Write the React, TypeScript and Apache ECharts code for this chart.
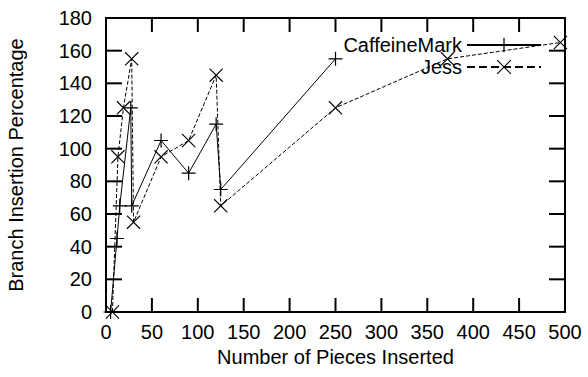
import React, { useEffect, useRef } from "react";
import * as echarts from "echarts";

const cmX = [5, 12, 15, 27, 28, 60, 90, 120, 125, 250];
const cmY = [0, 45, 65, 125, 65, 105, 85, 115, 75, 155];
const jessX = [7, 13, 19, 28, 30, 60, 90, 120, 125, 250, 372, 495];
const jessY = [0, 95, 125, 155, 55, 95, 105, 145, 65, 125, 155, 165];
const xTicks = [0, 50, 100, 150, 200, 250, 300, 350, 400, 450, 500];
const yTicks = [0, 20, 40, 60, 80, 100, 120, 140, 160, 180];
const seriesNames = ["CaffeineMark", "Jess"];
const xTitle = "Number of Pieces Inserted";
const yTitle = "Branch Insertion Percentage";

const PLUS = "path://M6.4,0 h1.2 v14 h-1.2z M0,6.4 h14 v1.2 h-14z";
const CROSS = "path://M0,0.8 L0.8,0 L14,13.2 L13.2,14z M13.2,0 L14,0.8 L0.8,14 L0,13.2z";

const FONT = "Liberation Sans, Arial, sans-serif";

export default function App() {
  const ref = useRef<HTMLDivElement>(null);
  useEffect(() => {
    document.body.style.margin = "0";
    const chart = echarts.init(ref.current!, null, { renderer: "svg" });
    const xMin = xTicks[0];
    const xMax = xTicks[xTicks.length - 1];
    const yMin = yTicks[0];
    const yMax = yTicks[yTicks.length - 1];
    chart.setOption({
      animation: false,
      backgroundColor: "#fff",
      grid: {
        left: 106,
        right: 23,
        top: 18,
        bottom: 65,
        show: true,
        borderColor: "#000",
        borderWidth: 2,
        backgroundColor: "transparent",
        outerBoundsMode: "none",
      },
      legend: {
        data: seriesNames,
        orient: "vertical",
        align: "right",
        right: 41,
        top: 30,
        itemWidth: 74,
        itemHeight: 18,
        itemGap: 2,
        textStyle: { fontSize: 20, fontFamily: FONT, color: "#000" },
      },
      xAxis: {
        type: "value",
        min: xMin,
        max: xMax,
        interval: 50,
        name: xTitle,
        nameLocation: "middle",
        nameGap: 34,
        nameTextStyle: { fontSize: 20, fontFamily: FONT, color: "#000" },
        axisTick: { show: false },
        axisLine: { show: true, lineStyle: { color: "#000", width: 2 } },
        splitLine: { show: false },
        axisLabel: { margin: 10, fontSize: 20, fontFamily: FONT, color: "#000" },
      },
      yAxis: {
        type: "value",
        min: yMin,
        max: yMax,
        interval: 20,
        name: yTitle,
        nameLocation: "middle",
        nameGap: 80,
        nameTextStyle: { fontSize: 20, fontFamily: FONT, color: "#000" },
        axisTick: { show: false },
        axisLine: { show: true, lineStyle: { color: "#000", width: 2 } },
        splitLine: { show: false },
        axisLabel: { margin: 14, fontSize: 20, fontFamily: FONT, color: "#000" },
      },
      series: [
        {
          name: seriesNames[0],
          type: "line",
          data: cmX.map((x, i) => [x, cmY[i]]),
          symbol: PLUS,
          symbolSize: 14,
          lineStyle: { color: "#000", width: 1, type: "solid" },
          itemStyle: { color: "#000" },
        },
        {
          name: seriesNames[1],
          type: "line",
          data: jessX.map((x, i) => [x, jessY[i]]),
          symbol: CROSS,
          symbolSize: 14,
          lineStyle: { color: "#000", width: 1, type: "dashed" },
          itemStyle: { color: "#000" },
        },
        {
          name: "xTicks",
          type: "custom",
          silent: true,
          clip: false,
          data: xTicks.map((v) => [v, yMin]),
          encode: { x: 0, y: 1 },
          renderItem: (_p: any, api: any) => {
            const v = api.value(0);
            const b = api.coord([v, yMin]);
            const t = api.coord([v, yMax]);
            return {
              type: "group",
              children: [
                { type: "line", shape: { x1: b[0], y1: b[1], x2: b[0], y2: b[1] - 14 }, style: { stroke: "#000", lineWidth: 2 } },
                { type: "line", shape: { x1: t[0], y1: t[1], x2: t[0], y2: t[1] + 14 }, style: { stroke: "#000", lineWidth: 2 } },
              ],
            };
          },
        },
        {
          name: "yTicks",
          type: "custom",
          silent: true,
          clip: false,
          data: yTicks.map((v) => [xMin, v]),
          encode: { x: 0, y: 1 },
          renderItem: (_p: any, api: any) => {
            const v = api.value(1);
            const l = api.coord([xMin, v]);
            const r = api.coord([xMax, v]);
            return {
              type: "group",
              children: [
                { type: "line", shape: { x1: l[0], y1: l[1], x2: l[0] + 16, y2: l[1] }, style: { stroke: "#000", lineWidth: 2 } },
                { type: "line", shape: { x1: r[0], y1: r[1], x2: r[0] - 16, y2: r[1] }, style: { stroke: "#000", lineWidth: 2 } },
              ],
            };
          },
        },
      ],
    });
    return () => chart.dispose();
  }, []);
  return <div ref={ref} style={{ width: 588, height: 377 }} />;
}
